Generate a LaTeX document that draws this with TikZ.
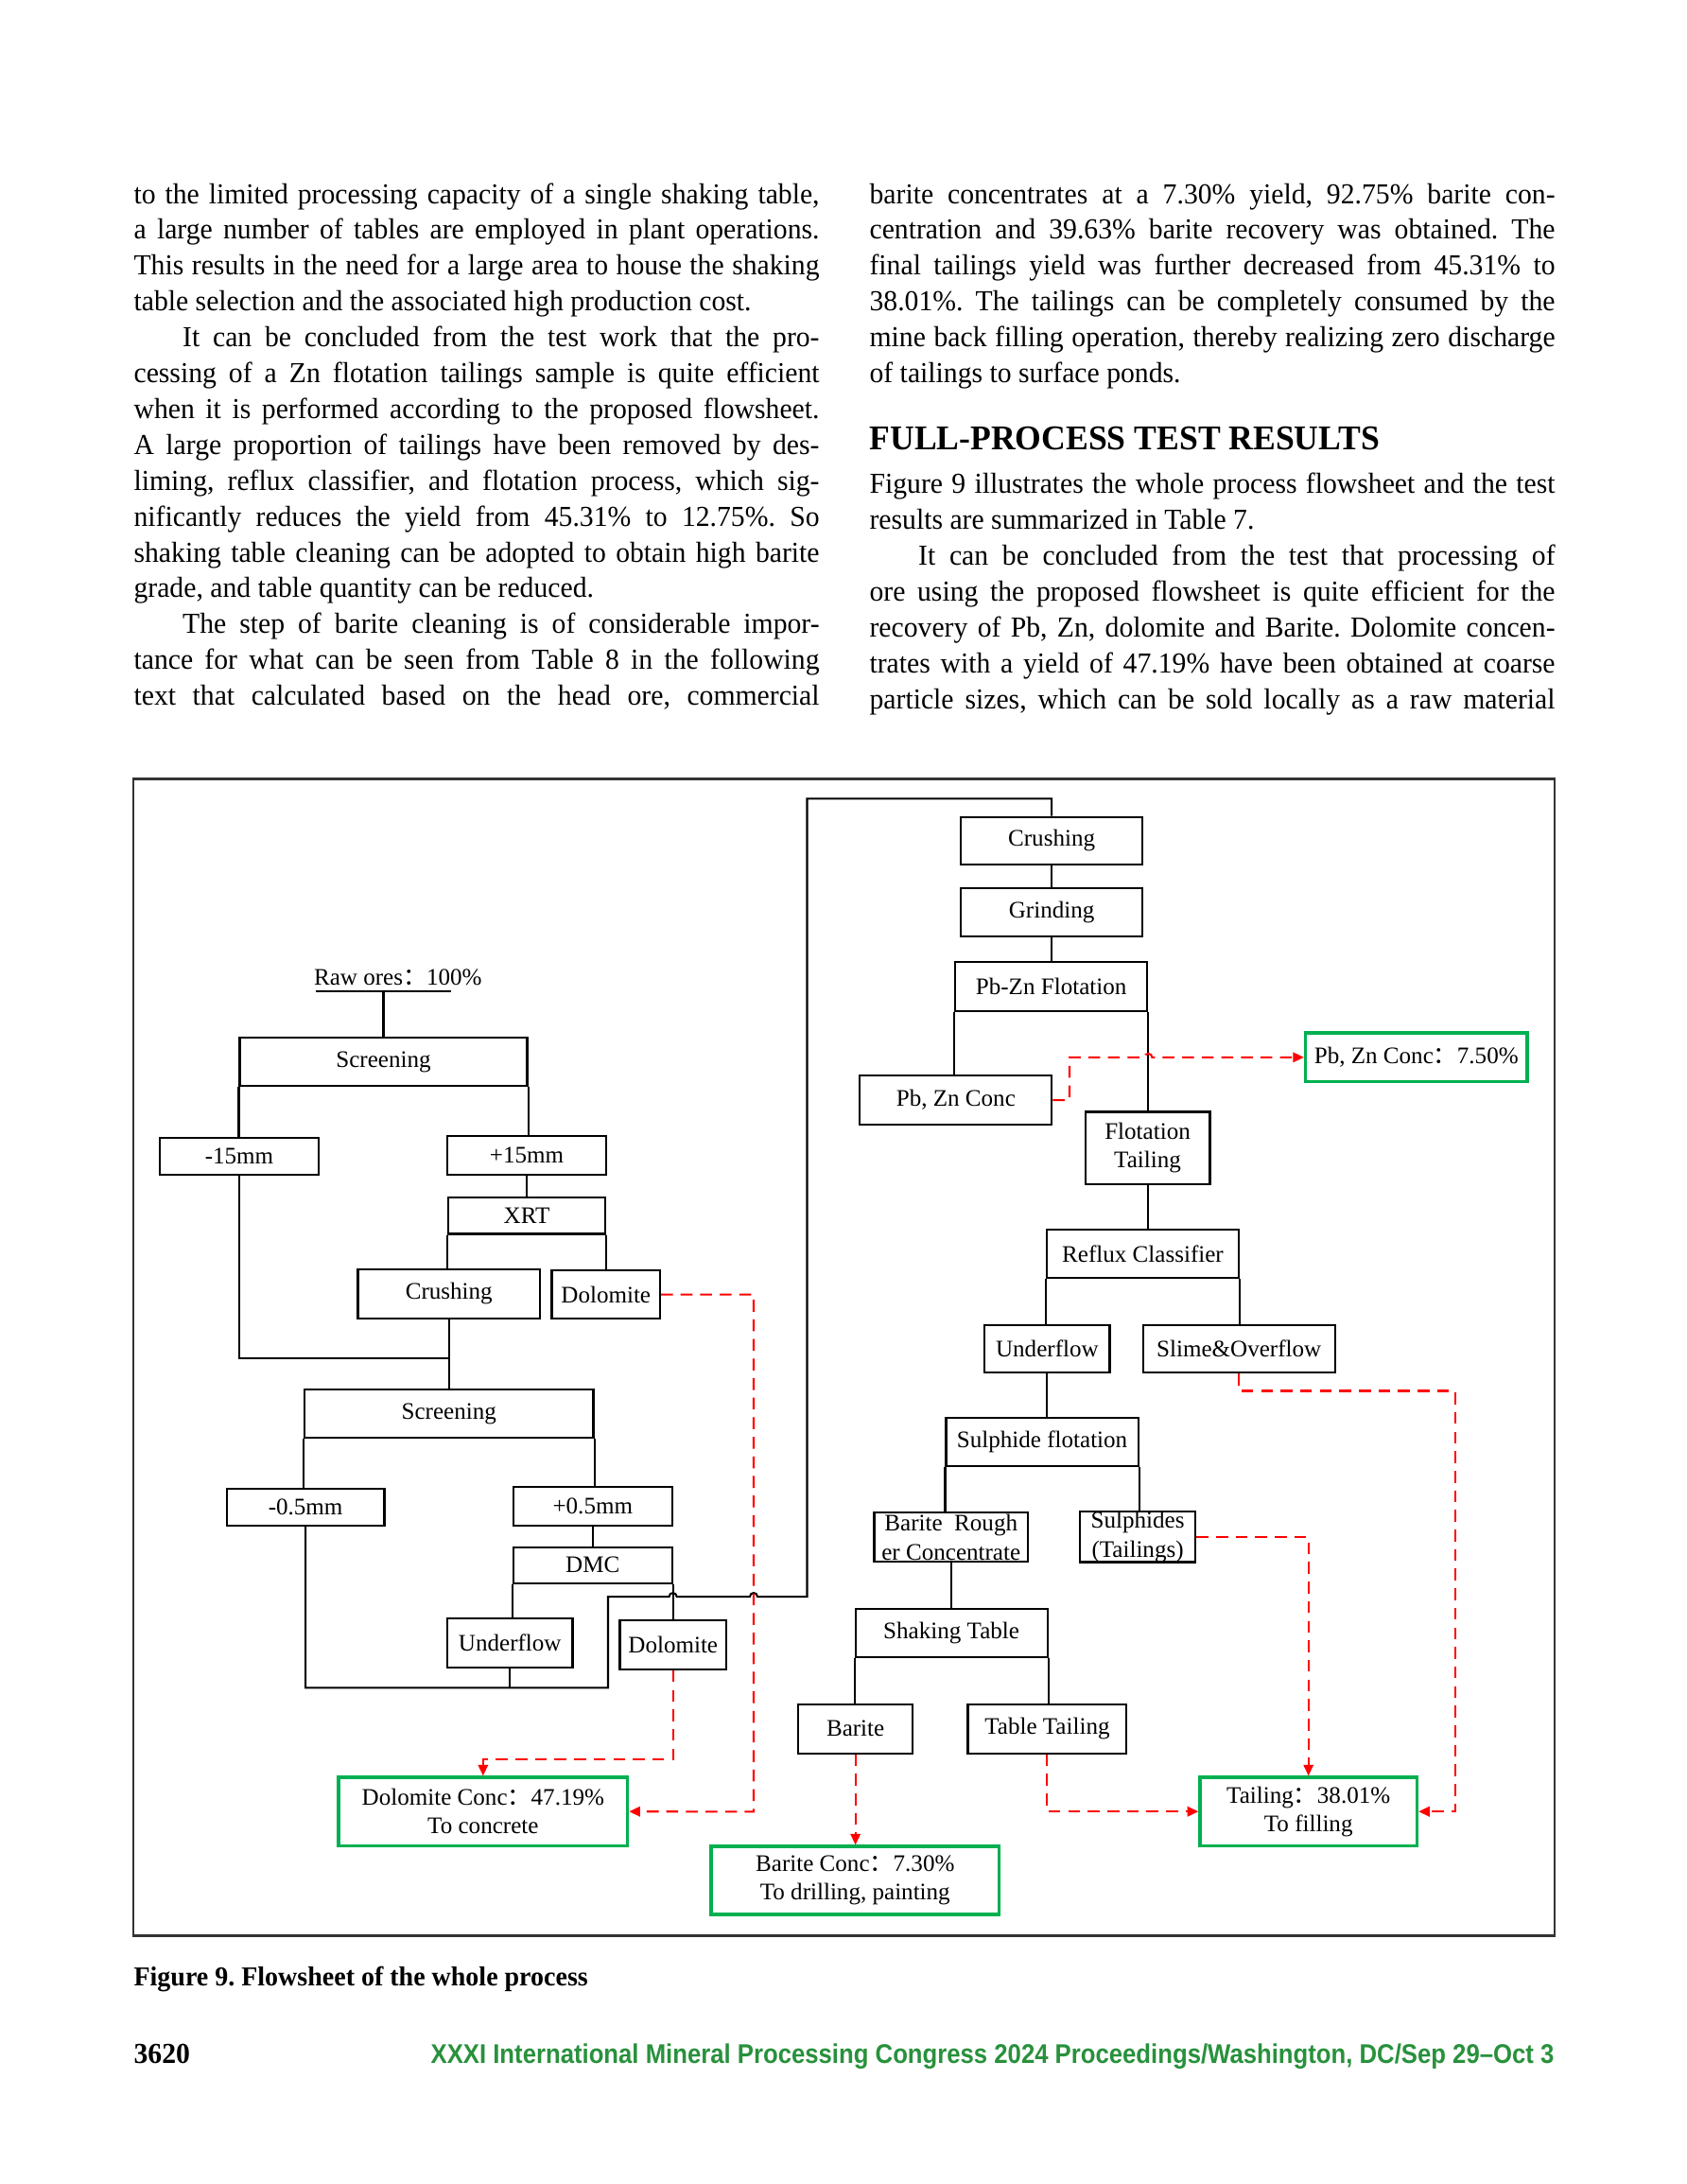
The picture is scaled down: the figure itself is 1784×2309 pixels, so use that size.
\documentclass[tikz,border=0pt]{standalone}
\usepackage{fontspec}
\setmainfont[FakeStretch=0.97]{Liberation Serif}
\newfontfamily\dgfont{Liberation Serif}
\newfontfamily\cjkfont{Noto Sans CJK SC}
\newfontfamily\footfont[FakeStretch=0.90]{Liberation Sans}
\usetikzlibrary{calc,arrows.meta}
\definecolor{boxgreen}{RGB}{0,176,80}
\definecolor{footgreen}{RGB}{40,145,60}
\frenchspacing
\newcommand\fwc{{\cjkfont ：}}
\newlength\colw \setlength\colw{248.7pt}
\newcommand\jl[1]{\makebox[\colw][s]{#1}}
\newcommand\bx[7][box]{\node[#1,minimum width={(#5-#3)*0.34305pt},minimum height={(#6-#4)*0.34305pt}] (#2) at ({(#3+#5)/2},{(#4+#6)/2}) {#7};}
\newcommand\txtline[4]{\node[body] (#1) at (#2,#3) {#4};}
\begin{document}
\begin{tikzpicture}[x=0.34305pt,y=-0.34305pt,
 box/.style={draw, line width=0.7pt, inner sep=0pt, font=\dgfont\fontsize{8.6}{10.4}\selectfont, align=center},
 gbox/.style={box, draw=boxgreen, line width=1.1pt},
 ln/.style={line width=0.7pt},
 rd/.style={draw=red, line width=0.7pt, dash pattern=on 4.3pt off 2.8pt},
 arr/.style={-{Triangle[length=4pt,width=3.6pt]}, red},
 body/.style={anchor=base west, inner sep=0pt, font=\frenchspacing\fontsize{10.5}{13}\selectfont}]
\useasboundingbox (0,0) rectangle (1784,2309);
\fill[white] (0,0) rectangle (1784,2309);

% ---------- column 1 ----------
\txtline{a1}{141}{215}{\jl{to the limited processing capacity of a single shaking table,}}
\txtline{a2}{141}{252.9}{\jl{a large number of tables are employed in plant operations.}}
\txtline{a3}{141}{290.8}{\jl{This results in the need for a large area to house the shaking}}
\txtline{a4}{141}{328.7}{table selection and the associated high production cost.}
\txtline{a5}{141}{366.6}{\jl{\hspace*{17.7pt}It can be concluded from the test work that the pro-}}
\txtline{a6}{141}{404.5}{\jl{cessing of a Zn flotation tailings sample is quite efficient}}
\txtline{a7}{141}{442.4}{\jl{when it is performed according to the proposed flowsheet.}}
\txtline{a8}{141}{480.3}{\jl{A large proportion of tailings have been removed by des-}}
\txtline{a9}{141}{518.2}{\jl{liming, reflux classifier, and flotation process, which sig-}}
\txtline{a10}{141}{556.1}{\jl{nificantly reduces the yield from 45.31\% to 12.75\%. So}}
\txtline{a11}{141}{594}{\jl{shaking table cleaning can be adopted to obtain high barite}}
\txtline{a12}{141}{631.9}{grade, and table quantity can be reduced.}
\txtline{a13}{141}{669.8}{\jl{\hspace*{17.7pt}The step of barite cleaning is of considerable impor-}}
\txtline{a14}{141}{707.7}{\jl{tance for what can be seen from Table 8 in the following}}
\txtline{a15}{141}{745.6}{\jl{text that calculated based on the head ore, commercial}}

% ---------- column 2 ----------
\txtline{b1}{919}{215}{\jl{barite concentrates at a 7.30\% yield, 92.75\% barite con-}}
\txtline{b2}{919}{252.9}{\jl{centration and 39.63\% barite recovery was obtained. The}}
\txtline{b3}{919}{290.8}{\jl{final tailings yield was further decreased from 45.31\% to}}
\txtline{b4}{919}{328.7}{\jl{38.01\%. The tailings can be completely consumed by the}}
\txtline{b5}{919}{366.6}{\jl{mine back filling operation, thereby realizing zero discharge}}
\txtline{b6}{919}{404.5}{of tailings to surface ponds.}
\node[anchor=base west, inner sep=0pt, font=\bfseries\fontsize{12.6}{14}\selectfont] (head) at (919,475) {FULL-PROCESS TEST RESULTS};
\txtline{b7}{919}{521.6}{\jl{Figure 9 illustrates the whole process flowsheet and the test}}
\txtline{b8}{919}{559.5}{results are summarized in Table 7.}
\txtline{b9}{919}{597.4}{\jl{\hspace*{17.7pt}It can be concluded from the test that processing of}}
\txtline{b10}{919}{635.3}{\jl{ore using the proposed flowsheet is quite efficient for the}}
\txtline{b11}{919}{673.2}{\jl{recovery of Pb, Zn, dolomite and Barite. Dolomite concen-}}
\txtline{b12}{919}{711.1}{\jl{trates with a yield of 47.19\% have been obtained at coarse}}
\txtline{b13}{919}{749}{\jl{particle sizes, which can be sold locally as a raw material}}

% ---------- frame ----------
\draw[line width=1pt, draw=black!80] (141,823.5) rectangle (1644,2046.5);

% ---------- left flowsheet ----------
\node[anchor=base west, inner sep=0pt, font=\dgfont\fontsize{8.6}{10.4}\selectfont] (raw) at (331.5,1041.5) {Raw ores\fwc 100\%};
\coordinate (ul1) at (334,1048);
\coordinate (ul2) at (477,1048);
\bx{scr1}{253.5}{1097}{557.5}{1148}{Screening}
\bx{m15}{169}{1203}{337}{1242}{-15mm}
\bx{p15}{473}{1201}{641}{1242}{+15mm}
\bx{xrt}{474}{1266}{640}{1304.5}{XRT}
\bx{crl}{378.5}{1342}{571}{1393.6}{Crushing}
\bx{dol1}{583.5}{1343}{698}{1394.4}{Dolomite}
\bx{scr2}{322}{1469}{627.5}{1520}{Screening}
\bx{m05}{239.7}{1574}{406.5}{1612.7}{-0.5mm}
\bx{p05}{543}{1572}{710.6}{1612.7}{+0.5mm}
\bx{dmc}{543}{1635.5}{710.6}{1673.6}{DMC}
\bx{ufl}{473}{1711}{605.5}{1762.8}{Underflow}
\bx{dol2}{655.5}{1713.4}{768}{1764.8}{Dolomite}
\bx[gbox]{dolc}{358}{1879}{663.7}{1951.4}{Dolomite Conc\fwc 47.19\%\\To concrete}

% ---------- right flowsheet ----------
\bx{crr}{1015.8}{863.6}{1208.4}{914}{Crushing}
\bx{grd}{1015.8}{939.4}{1208.4}{990.3}{Grinding}
\bx{pbf}{1010}{1017.4}{1213.3}{1068.7}{Pb-Zn Flotation}
\bx{pbc}{909.4}{1137.2}{1112.3}{1188.9}{Pb, Zn Conc}
\bx[gbox]{pbg}{1380.5}{1092}{1615}{1143.7}{Pb, Zn Conc\fwc 7.50\%}
\bx{ftl}{1147.6}{1175.5}{1279.5}{1251.6}{Flotation\\Tailing}
\bx{rfx}{1107}{1300}{1310}{1351}{Reflux Classifier}
\bx{ufr}{1041.3}{1401}{1173.5}{1451.4}{Underflow}
\bx{slm}{1208.7}{1401}{1411.7}{1451.4}{Slime\&Overflow}
\bx{slf}{1000.5}{1499}{1203.6}{1550}{Sulphide flotation}
\bx{brc}{924.5}{1599.4}{1087}{1651.2}{Barite\ \ Rough\\er Concentrate}
\bx{sul}{1141.8}{1599.4}{1264.3}{1650.4}{Sulphides\\(Tailings)}
\bx{skt}{904.6}{1701.4}{1107.6}{1751.6}{Shaking Table}
\bx{bar}{844}{1802}{965.3}{1853.6}{Barite}
\bx{ttl}{1023.5}{1802}{1191.3}{1853.6}{Table Tailing}
\bx[gbox]{barc}{752}{1952}{1056.6}{2024}{Barite Conc\fwc 7.30\%\\To drilling, painting}
\bx[gbox]{tlc}{1268.9}{1879}{1498.5}{1951.4}{Tailing\fwc 38.01\%\\To filling}

% ---------- black connectors (left) ----------
\draw[ln] (ul1) -- (ul2);
\draw[ln] (ul1 -| scr1.north) -- (scr1.north);
\draw[ln] (scr1.south west) -- (scr1.south west |- m15.north);
\draw[ln] (scr1.south east) -- (scr1.south east |- p15.north);
\draw[ln] (p15.south) -- (p15.south |- xrt.north);
\draw[ln] (xrt.south west) -- (xrt.south west |- crl.north);
\draw[ln] (xrt.south east) -- (xrt.south east |- dol1.north);
\coordinate (j1) at (475,1436);
\draw[ln] (m15.south) |- (j1);
\draw[ln] (crl.south) -- (crl.south |- scr2.north);
\draw[ln] (scr2.south west) -- (scr2.south west |- m05.north);
\draw[ln] (scr2.south east) -- (scr2.south east |- p05.north);
\draw[ln] (p05.south) -- (p05.south |- dmc.north);
\draw[ln] (dmc.south west) -- (dmc.south west |- ufl.north);
\draw[ln] (dmc.south east) -- (dmc.south east |- dol2.north);
\coordinate (jb) at (643,1784.3);
\coordinate (jt) at (643,1688);
\coordinate (jr) at (853.5,1688);
\coordinate (jtop) at (853.5,844.4);
\coordinate (rx) at (797,1688);
\draw[ln] (ufl.south) -- (ufl.south |- jb);
\draw[ln] (m05.south) |- (jb) -- (jt)
  -- ($(dmc.south east |- jt)+(-4,0)$) arc (180:360:4)
  -- ($(rx)+(-4,0)$) arc (180:360:4)
  -- (jr) -- (jtop) -| (crr.north);

% ---------- black connectors (right) ----------
\draw[ln] (crr.south) -- (grd.north);
\draw[ln] (grd.south) -- (grd.south |- pbf.north);
\draw[ln] (pbf.south west) -- (pbf.south west |- pbc.north);
\draw[ln] (pbf.south east) -- (pbf.south east |- ftl.north);
\draw[ln] (ftl.south) -- (ftl.south |- rfx.north);
\draw[ln] (rfx.south west) -- (rfx.south west |- ufr.north);
\draw[ln] (rfx.south east) -- (rfx.south east |- slm.north);
\draw[ln] (ufr.south) -- (ufr.south |- slf.north);
\draw[ln] (slf.south west) -- (slf.south west |- brc.north);
\draw[ln] (slf.south east) -- (slf.south east |- sul.north);
\draw[ln] (brc.south) -- (brc.south |- skt.north);
\draw[ln] (skt.south west) -- (skt.south west |- bar.north);
\draw[ln] (skt.south east) -- (skt.south east |- ttl.north);

% ---------- red dashed flows ----------
\coordinate (r1) at (797,1915.3);
\draw[rd,arr] (dol1.east) -| (r1) -- (dolc.east);
\coordinate (r2) at (711.6,1860);
\draw[rd,arr] (dol2.south) -- (dol2.south |- r2) -| (dolc.north);
\coordinate (rh) at (1131,1117.85);
\draw[rd,arr] (pbc.east) -| (rh) -- ($(rh -| pbf.south east)+(-4,0)$) arc (180:360:4) -- (pbg.west);
\coordinate (r3) at (1538.8,1470.5);
\draw[rd,arr] (slm.south) |- (r3) |- (tlc.east);
\draw[rd,arr] (sul.east) -| (tlc.north);
\draw[rd,arr] (ttl.south) |- (tlc.west);
\draw[rd,arr] (bar.south) -- (bar.south |- barc.north);

% ---------- caption and footer ----------
\node[anchor=base west, inner sep=0pt, font=\bfseries\fontsize{9.9}{12}\selectfont] (cap) at (141,2099) {Figure 9. Flowsheet of the whole process};
\node[anchor=base west, inner sep=0pt, font=\bfseries\fontsize{10.5}{12}\selectfont] (pg) at (141,2181) {3620};
\node[anchor=base east, inner sep=0pt, text=footgreen, font=\footfont\bfseries\fontsize{9.8}{12}\selectfont] (foot) at (1644,2181) {XXXI International Mineral Processing Congress 2024 Proceedings/Washington, DC/Sep 29–Oct 3};
\end{tikzpicture}
\end{document}
